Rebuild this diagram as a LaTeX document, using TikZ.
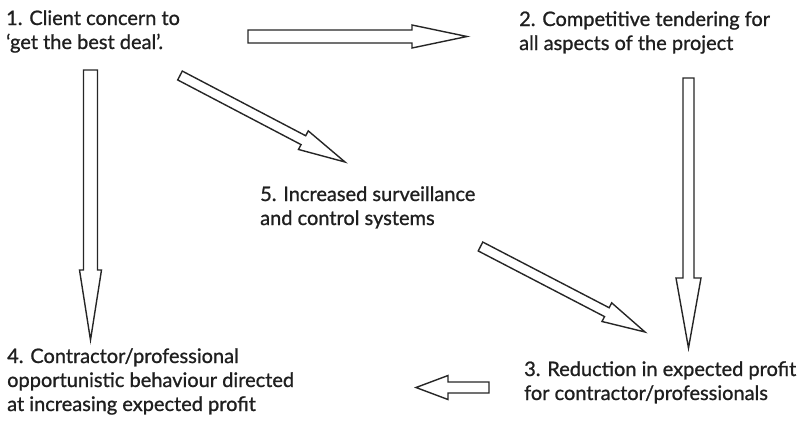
\documentclass[tikz,border=0pt]{standalone}
\usepackage{fontspec}
\setmainfont{Lato}
\newfontfamily\stagefont{Lato}[FakeBold=1]
\usetikzlibrary{calc}
% hollow block arrow: tail, tip, shaft half-width, head half-width, head length
\newcommand\flowarrow[5]{%
  \coordinate (hb) at ($(#2)!#5pt!(#1)$);
  \draw[blockarrow] ($(#1)!#3pt!90:(#2)$) -- ($(hb)!#3pt!-90:(#1)$)
    -- ($(hb)!#4pt!-90:(#1)$) -- (#2) -- ($(hb)!#4pt!90:(#1)$)
    -- ($(hb)!#3pt!90:(#1)$) -- ($(#1)!#3pt!-90:(#2)$) -- cycle;}
\begin{document}
\begin{tikzpicture}[x=1pt,y=-1pt,
  stage/.style={anchor=base west, inner sep=0pt, align=left,
    font=\stagefont\fontsize{20}{24}\selectfont, text=black!88},
  blockarrow/.style={draw=black!85, fill=white, line width=1.4pt, line join=miter}]
\useasboundingbox (0,0) rectangle (807,421);

% stages of the cycle (anchored at the baseline of their last line)
\node[stage] (t1) at (6,49)    {1. Client concern to\\‘get the best deal’.};
\node[stage] (t2) at (519,50)  {2. Competitive tendering for\\all aspects of the project};
\node[stage] (t5) at (260,225) {5. Increased surveillance\\and control systems};
\node[stage] (t4) at (7,411)   {4. Contractor/professional\\opportunistic behaviour directed\\at increasing expected profit};
\node[stage] (t3) at (524,400) {3. Reduction in expected profit\\for contractor/professionals};

% arrow ends
\coordinate (a12) at (248,36.5);  \coordinate (b12) at (467,36.5);
\coordinate (a14) at (90.5,70);   \coordinate (b14) at (90.5,340);
\coordinate (a15) at (180,75.5);  \coordinate (b15) at (345,162);
\coordinate (a53) at (480.5,246.5); \coordinate (b53) at (645,332);
\coordinate (a23) at (688.5,78);  \coordinate (b23) at (688.5,348);
\coordinate (a34) at (489,387.5); \coordinate (b34) at (416,387.5);

\flowarrow{a12}{b12}{6.5}{11.5}{55}
\flowarrow{a14}{b14}{7}{11}{70}
\flowarrow{a15}{b15}{5}{10.5}{47}
\flowarrow{a53}{b53}{5}{10.5}{43}
\flowarrow{a23}{b23}{5.5}{12.5}{70}
\flowarrow{a34}{b34}{5.5}{12}{32}
\end{tikzpicture}
\end{document}
